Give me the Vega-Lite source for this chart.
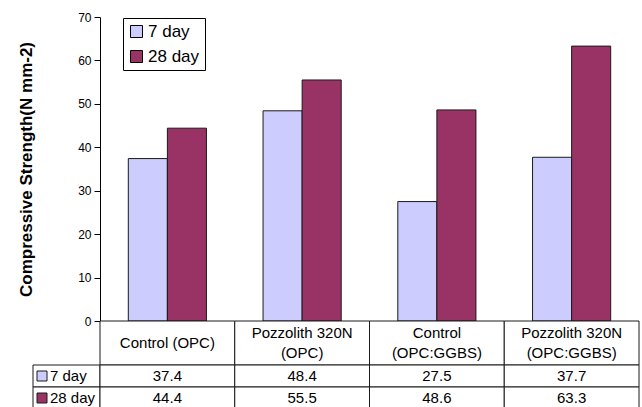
{
  "$schema": "https://vega.github.io/schema/vega-lite/v6.json",
  "padding": {"left": 17, "top": 11, "right": 0, "bottom": 0},
  "config": {"font": "Liberation Sans", "view": {"stroke": null}},
  "datasets": {
    "strength": [
      {"cat": "Control (OPC)", "period": "7 day", "value": 37.4},
      {"cat": "Control (OPC)", "period": "28 day", "value": 44.4},
      {"cat": "Pozzolith 320N\n(OPC)", "period": "7 day", "value": 48.4},
      {"cat": "Pozzolith 320N\n(OPC)", "period": "28 day", "value": 55.5},
      {"cat": "Control\n(OPC:GGBS)", "period": "7 day", "value": 27.5},
      {"cat": "Control\n(OPC:GGBS)", "period": "28 day", "value": 48.6},
      {"cat": "Pozzolith 320N\n(OPC:GGBS)", "period": "7 day", "value": 37.7},
      {"cat": "Pozzolith 320N\n(OPC:GGBS)", "period": "28 day", "value": 63.3}
    ]
  },
  "columns": 2,
  "spacing": 0,
  "bounds": "flush",
  "resolve": {"legend": {"color": "independent"}},
  "concat": [
    {"width": 67, "height": 304, "data": {"values": []}, "mark": "point", "encoding": {}},
    {
      "width": 539,
      "height": 304,
      "data": {"name": "strength"},
      "mark": {"type": "bar", "stroke": "#1a1a1a", "strokeWidth": 1, "opacity": 1},
      "encoding": {
        "x": {"field": "cat", "type": "nominal", "sort": ["Control (OPC)", "Pozzolith 320N\n(OPC)", "Control\n(OPC:GGBS)", "Pozzolith 320N\n(OPC:GGBS)"], "axis": null, "scale": {"paddingInner": 0.42, "paddingOuter": 0.21}},
        "xOffset": {"field": "period", "type": "nominal", "sort": ["7 day", "28 day"], "scale": {"paddingInner": 0, "paddingOuter": 0}},
        "y": {
          "field": "value", "type": "quantitative",
          "scale": {"domain": [0, 70], "nice": false},
          "axis": {"values": [0, 10, 20, 30, 40, 50, 60, 70], "title": "Compressive Strength(N mm-2)", "titleFontSize": 17, "titleFontWeight": "bold", "titleColor": "black", "titlePadding": 42, "labelFontSize": 12, "labelColor": "black", "labelPadding": 3, "domainColor": "black", "tickColor": "black", "tickSize": 6, "grid": false}
        },
        "color": {
          "field": "period", "type": "nominal", "sort": ["7 day", "28 day"],
          "scale": {"domain": ["7 day", "28 day"], "range": ["#CCCCFF", "#993366"]},
          "legend": {"orient": "none", "legendX": 23, "legendY": 1, "title": null, "strokeColor": "black", "fillColor": "white", "padding": 5, "symbolType": "square", "symbolSize": 144, "symbolStrokeColor": "black", "symbolStrokeWidth": 1, "symbolOpacity": 1, "labelFontSize": 17, "labelColor": "black", "labelOffset": 3, "rowPadding": 7, "cornerRadius": 0}
        }
      }
    },
    {"width": 67, "height": 44, "data": {"values": []}, "mark": "point", "encoding": {}},
    {
      "width": 539,
      "height": 44,
      "data": {"name": "strength"},
      "transform": [
        {"filter": "datum.period === '7 day'"},
        {"calculate": "split(datum.cat, '\\n')", "as": "lines"}
      ],
      "encoding": {
        "x": {"field": "cat", "type": "nominal", "sort": ["Control (OPC)", "Pozzolith 320N\n(OPC)", "Control\n(OPC:GGBS)", "Pozzolith 320N\n(OPC:GGBS)"], "axis": null, "scale": {"paddingInner": 0, "paddingOuter": 0}}
      },
      "layer": [
        {"mark": {"type": "rect", "fill": "white", "stroke": "#1a1a1a", "strokeWidth": 1}},
        {"transform": [{"filter": "length(datum.lines) === 1"}],
         "mark": {"type": "text", "fontSize": 15, "baseline": "middle", "color": "black"}, "encoding": {"text": {"field": "lines"}}},
        {"transform": [{"filter": "length(datum.lines) > 1"}],
         "mark": {"type": "text", "fontSize": 15, "lineHeight": 20, "baseline": "middle", "dy": -10, "color": "black"}, "encoding": {"text": {"field": "lines"}}}
      ]
    },
    {
      "width": 67,
      "height": 44,
      "data": {"name": "strength"},
      "transform": [{"filter": "datum.cat === 'Control (OPC)'"}],
      "encoding": {
        "y": {"field": "period", "type": "nominal", "sort": ["7 day", "28 day"], "axis": null, "scale": {"paddingInner": 0, "paddingOuter": 0}}
      },
      "layer": [
        {"mark": {"type": "rect", "fill": "white", "stroke": "#1a1a1a", "strokeWidth": 1}},
        {"mark": {"type": "point", "shape": "square", "filled": true, "size": 100, "stroke": "#1a1a1a", "strokeWidth": 1, "opacity": 1, "xOffset": -24.5},
         "encoding": {"color": {"field": "period", "type": "nominal", "legend": null, "scale": {"domain": ["7 day", "28 day"], "range": ["#CCCCFF", "#993366"]}}}},
        {"mark": {"type": "text", "align": "left", "fontSize": 15, "dx": -16.5, "color": "black"}, "encoding": {"text": {"field": "period"}}}
      ]
    },
    {
      "width": 539,
      "height": 44,
      "data": {"name": "strength"},
      "encoding": {
        "x": {"field": "cat", "type": "nominal", "sort": ["Control (OPC)", "Pozzolith 320N\n(OPC)", "Control\n(OPC:GGBS)", "Pozzolith 320N\n(OPC:GGBS)"], "axis": null, "scale": {"paddingInner": 0, "paddingOuter": 0}},
        "y": {"field": "period", "type": "nominal", "sort": ["7 day", "28 day"], "axis": null, "scale": {"paddingInner": 0, "paddingOuter": 0}}
      },
      "layer": [
        {"mark": {"type": "rect", "fill": "white", "stroke": "#1a1a1a", "strokeWidth": 1}},
        {"mark": {"type": "text", "fontSize": 15, "color": "black"}, "encoding": {"text": {"field": "value", "type": "quantitative", "format": ".1f"}}}
      ]
    }
  ]
}
